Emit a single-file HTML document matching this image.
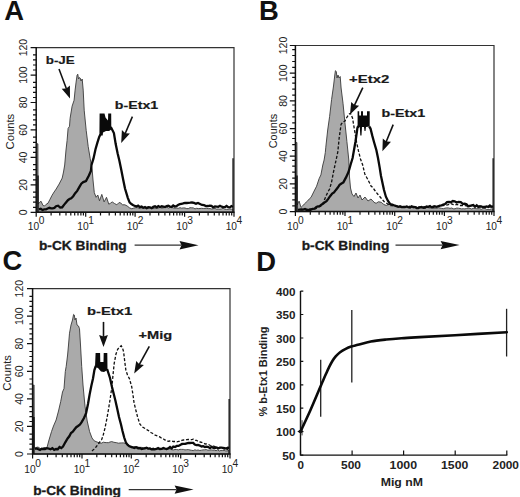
<!DOCTYPE html><html><head><meta charset="utf-8"><style>html,body{margin:0;padding:0;background:#fff;}svg{display:block;}text{font-family:"Liberation Sans",sans-serif;}</style></head><body>
<svg width="520" height="497" viewBox="0 0 520 497">
<rect width="520" height="497" fill="#fff"/>
<text x="4.3" y="20" font-size="27.4" font-weight="bold" fill="#111">A</text>
<text x="259.0" y="20" font-size="27.4" font-weight="bold" fill="#111">B</text>
<text x="2.6" y="269.6" font-size="27.4" font-weight="bold" fill="#111">C</text>
<text x="256.2" y="270.8" font-size="27.4" font-weight="bold" fill="#111">D</text>
<polygon points="37.0,212.0 37.0,143.8 37.9,143.8 38.1,204.0 41.0,201.2 43.0,205.5 44.5,206.0 46.2,204.3 48.0,203.2 50.0,199.3 52.1,195.2 54.1,192.0 56.1,189.1 59.1,184.1 62.2,178.1 63.5,172.0 64.7,165.0 66.0,150.0 67.1,140.4 68.1,128.4 69.5,126.3 70.1,118.3 72.1,106.2 74.1,100.2 75.1,90.1 76.1,82.1 77.1,75.0 77.8,74.2 78.5,79.0 79.5,77.5 80.2,78.0 81.0,81.0 82.2,79.0 83.2,90.1 84.2,110.2 86.2,130.4 88.2,146.5 90.2,158.5 92.2,170.0 93.0,180.0 94.3,192.7 96.1,197.3 97.8,195.0 99.5,200.8 101.8,194.4 104.1,201.9 106.5,197.3 108.8,204.2 110.5,203.2 112.2,201.9 114.5,203.5 116.8,204.8 119.1,202.5 120.8,203.1 122.6,204.8 124.9,204.8 127.2,206.0 129.5,207.8 131.8,208.8 133.7,208.1 135.7,207.7 137.6,207.7 139.3,208.4 141.1,207.9 142.8,208.4 144.5,208.1 146.3,208.4 148.0,208.3 149.7,207.8 151.4,208.3 153.1,208.6 154.8,208.1 156.5,208.3 158.2,208.1 159.8,207.3 161.5,208.1 163.2,207.9 164.9,207.4 166.6,207.1 168.3,208.0 170.0,207.5 171.7,207.5 173.3,207.9 175.0,208.1 176.7,208.0 178.3,208.3 180.0,207.7 181.7,208.2 183.3,207.9 185.0,208.0 186.7,208.6 188.3,208.6 190.0,207.7 191.7,207.8 193.3,207.9 195.0,208.9 196.7,208.3 198.3,208.6 200.0,208.5 201.7,208.3 203.3,208.5 205.0,208.4 206.7,208.3 208.3,208.6 210.0,208.6 211.7,209.0 213.3,208.7 215.0,208.5 216.6,209.1 218.3,209.0 219.9,209.2 221.5,208.9 223.2,208.3 224.8,209.2 226.5,209.4 228.1,209.3 229.7,209.0 231.4,209.2 233.0,209.0 233.0,212.0" fill="#aaaaaa" stroke="#3a3a3a" stroke-width="0.9" stroke-linejoin="round"/>
<polyline points="38.9,209.3 40.7,208.7 42.5,210.0 44.2,209.4 46.0,209.3 47.7,208.5 49.4,207.8 51.1,208.3 52.8,208.3 54.4,207.9 56.1,206.2 58.1,205.7 60.2,207.5 62.2,207.3 64.2,204.6 66.2,202.2 67.9,200.2 69.5,199.1 71.2,198.2 73.2,196.2 75.2,193.2 77.2,190.9 79.3,187.1 81.3,183.7 83.3,182.1 86.0,181.0 88.9,175.5 90.9,171.0 91.5,165.0 93.5,158.4 95.5,149.3 97.4,142.7 99.2,137.0 100.4,134.5" fill="none" stroke="#0a0a0a" stroke-width="2.3" stroke-linejoin="miter"/>
<path d="M38.0,212.3V175.4M233.1,212.3V158.2" stroke="#0a0a0a" stroke-width="1.4"/>
<polyline points="110.8,127.0 113.9,133.0 115.7,144.1 117.6,153.3 119.4,160.7 121.3,170.0 123.1,179.3 125.0,188.5 127.8,197.8 129.6,202.4 131.4,204.0 133.3,205.2 136.4,206.5 138.1,205.7 139.8,207.1 141.6,206.5 143.3,207.7 145.0,207.0 146.7,208.1 148.3,207.2 150.0,207.3 151.7,208.2 153.3,206.8 155.0,206.3 156.7,207.3 158.3,206.1 160.0,207.0 161.7,206.3 163.3,206.6 165.0,207.0 166.7,206.0 168.3,205.7 170.0,206.5 171.6,206.9 173.2,205.5 174.8,206.5 176.4,206.1 178.0,205.0 179.8,204.2 181.5,203.8 183.2,203.4 185.0,202.8 186.8,203.0 188.5,202.8 190.2,202.7 192.0,202.5 194.0,202.9 196.0,203.7 198.0,203.0 200.0,204.0 202.0,205.0 204.0,205.2 206.0,206.1 208.0,206.0 209.8,205.6 211.5,205.9 213.2,207.3 215.0,206.5 216.7,206.6 218.3,206.8 220.0,205.8 221.7,206.7 223.3,207.1 225.0,207.0 226.6,206.0 228.2,207.2 229.8,207.3 231.4,206.1 233.0,207.0" fill="none" stroke="#0a0a0a" stroke-width="2.3" stroke-linejoin="miter"/>
<polygon points="99.4,135.5 99.6,113.5 104.5,113.5 105.5,117.5 108.0,120.5 108.2,113.5 111.2,113.5 111.3,129.6 109.0,131.0 106.0,131.0 103.0,132.5 102.7,135.5" fill="#0a0a0a"/>
<path d="M36.2,47.6 H234.0 V212.3" fill="none" stroke="#333" stroke-width="1.2"/>
<path d="M36.2,47.0 V212.3 H234.6" fill="none" stroke="#111" stroke-width="1.5"/>
<path d="M30.6,212.3H36.2M30.6,184.9H36.2M33.0,192.1H36.2M33.0,197.2H36.2M33.0,202.2H36.2M33.0,207.3H36.2M30.6,157.4H36.2M33.0,164.7H36.2M33.0,169.7H36.2M33.0,174.8H36.2M33.0,179.8H36.2M30.6,129.9H36.2M33.0,137.2H36.2M33.0,142.3H36.2M33.0,147.3H36.2M33.0,152.4H36.2M30.6,102.5H36.2M33.0,109.8H36.2M33.0,114.8H36.2M33.0,119.9H36.2M33.0,124.9H36.2M30.6,75.1H36.2M33.0,82.3H36.2M33.0,87.4H36.2M33.0,92.4H36.2M33.0,97.5H36.2M30.6,47.6H36.2M33.0,54.9H36.2M33.0,59.9H36.2M33.0,65.0H36.2M33.0,70.0H36.2M36.2,212.3V216.8M51.1,212.3V215.5M59.8,212.3V215.5M66.0,212.3V215.5M70.8,212.3V215.5M74.7,212.3V215.5M78.0,212.3V215.5M80.9,212.3V215.5M83.4,212.3V215.5M85.7,212.3V216.8M100.5,212.3V215.5M109.2,212.3V215.5M115.4,212.3V215.5M120.2,212.3V215.5M124.1,212.3V215.5M127.4,212.3V215.5M130.3,212.3V215.5M132.8,212.3V215.5M135.1,212.3V216.8M150.0,212.3V215.5M158.7,212.3V215.5M164.9,212.3V215.5M169.7,212.3V215.5M173.6,212.3V215.5M176.9,212.3V215.5M179.8,212.3V215.5M182.3,212.3V215.5M184.6,212.3V216.8M199.4,212.3V215.5M208.1,212.3V215.5M214.3,212.3V215.5M219.1,212.3V215.5M223.0,212.3V215.5M226.3,212.3V215.5M229.2,212.3V215.5M231.7,212.3V215.5M234.0,212.3V216.8" stroke="#111" stroke-width="1.2" fill="none"/>
<text x="27.0" y="212.3" transform="rotate(-90 27.0 212.3)" text-anchor="middle" font-size="10.5" fill="#222">0</text>
<text x="27.0" y="184.9" transform="rotate(-90 27.0 184.9)" text-anchor="middle" font-size="10.5" fill="#222">20</text>
<text x="27.0" y="157.4" transform="rotate(-90 27.0 157.4)" text-anchor="middle" font-size="10.5" fill="#222">40</text>
<text x="27.0" y="129.9" transform="rotate(-90 27.0 129.9)" text-anchor="middle" font-size="10.5" fill="#222">60</text>
<text x="27.0" y="102.5" transform="rotate(-90 27.0 102.5)" text-anchor="middle" font-size="10.5" fill="#222">80</text>
<text x="27.0" y="75.1" transform="rotate(-90 27.0 75.1)" text-anchor="middle" font-size="10.5" fill="#222">100</text>
<text x="27.0" y="47.6" transform="rotate(-90 27.0 47.6)" text-anchor="middle" font-size="10.5" fill="#222">120</text>
<text x="14.1" y="149.48" transform="rotate(-90 14.1 149.48)" font-size="10.5" fill="#222" textLength="35.72" lengthAdjust="spacingAndGlyphs">Counts</text>
<text x="39.2" y="230.2" text-anchor="end" font-size="10.2" fill="#222">10</text>
<text x="38.8" y="224.4" font-size="10.2" fill="#222">0</text>
<text x="88.7" y="230.2" text-anchor="end" font-size="10.2" fill="#222">10</text>
<text x="88.2" y="224.4" font-size="10.2" fill="#222">1</text>
<text x="138.1" y="230.2" text-anchor="end" font-size="10.2" fill="#222">10</text>
<text x="137.7" y="224.4" font-size="10.2" fill="#222">2</text>
<text x="187.6" y="230.2" text-anchor="end" font-size="10.2" fill="#222">10</text>
<text x="187.2" y="224.4" font-size="10.2" fill="#222">3</text>
<text x="237.0" y="230.2" text-anchor="end" font-size="10.2" fill="#222">10</text>
<text x="236.6" y="224.4" font-size="10.2" fill="#222">4</text>
<text x="38.98" y="249.5" font-size="12.3" font-weight="bold" fill="#1a1a1a" stroke="#1a1a1a" stroke-width="0.3" textLength="87.76" lengthAdjust="spacingAndGlyphs">b-CK Binding</text>
<path d="M134.6,245.2 H181.5" stroke="#333" stroke-width="1.3"/>
<path d="M198.5,245.2 L179.5,241.0 L181.5,245.2 L179.5,249.39999999999998 Z" fill="#111"/>
<text x="45.72" y="64.4" font-size="11.6" font-weight="bold" fill="#1a1a1a" stroke="#1a1a1a" stroke-width="0.2" textLength="29.02" lengthAdjust="spacingAndGlyphs">b-JE</text>
<path d="M59.0,69.0 L66.5,89.0" stroke="#111" stroke-width="1.6"/>
<path d="M70.0,98.4 L61.7,88.7 L66.3,88.6 L69.9,85.6 Z" fill="#111"/>
<text x="114.74" y="109.0" font-size="11.6" font-weight="bold" fill="#1a1a1a" stroke="#1a1a1a" stroke-width="0.2" textLength="43.48" lengthAdjust="spacingAndGlyphs">b-Etx1</text>
<path d="M132.4,116.6 L125.1,133.7" stroke="#111" stroke-width="1.6"/>
<path d="M121.2,142.9 L121.9,130.1 L125.3,133.2 L129.9,133.6 Z" fill="#111"/>
<polygon points="296.1,211.6 296.1,142.5 296.9,142.5 297.1,205.0 299.1,201.1 301.0,207.4 302.7,205.9 304.3,204.0 306.0,202.4 307.7,200.9 309.3,198.9 311.0,197.4 314.1,191.1 316.6,186.2 319.1,178.7 320.9,174.9 322.8,165.0 324.1,160.0 325.3,152.5 325.8,147.2 327.7,130.0 329.6,116.6 331.6,99.4 333.5,86.0 334.8,75.0 335.4,70.7 336.3,71.5 337.0,78.0 338.0,75.0 339.0,78.0 340.2,76.5 341.1,88.0 343.0,103.2 344.9,122.4 346.9,141.5 348.8,160.0 349.5,177.0 350.5,188.0 352.0,194.0 354.0,196.5 356.0,193.0 358.0,198.0 360.0,195.0 362.0,200.0 365.0,197.0 368.0,201.0 371.0,199.0 373.0,201.2 375.0,203.0 376.7,203.0 378.3,201.8 380.0,202.0 381.7,202.5 383.3,204.2 385.0,205.0 386.7,205.4 388.3,204.4 390.0,204.5 391.7,204.9 393.3,205.4 395.0,205.5 396.7,206.0 398.3,206.4 400.0,207.0 401.7,206.9 403.3,207.2 405.0,206.9 406.7,207.1 408.3,207.6 410.0,206.8 411.7,207.5 413.3,207.7 415.0,207.3 416.7,207.2 418.3,208.0 420.0,207.4 421.7,207.3 423.3,207.7 425.0,208.1 426.7,207.4 428.3,207.7 430.0,208.0 431.7,207.8 433.3,208.5 435.0,208.0 436.7,208.5 438.3,207.7 440.0,208.0 441.7,208.4 443.3,208.7 445.0,208.2 446.7,207.9 448.3,207.9 450.0,208.4 451.7,208.0 453.3,208.8 455.0,208.8 456.7,208.1 458.3,208.2 460.0,208.5 461.6,208.9 463.3,208.7 464.9,208.9 466.6,208.4 468.2,208.2 469.9,208.4 471.6,209.0 473.2,208.4 474.9,208.5 476.5,208.7 478.1,208.7 479.8,208.7 481.4,209.3 483.1,208.4 484.8,208.3 486.4,209.4 488.1,209.4 489.7,209.5 491.4,208.9 493.0,209.0 493.0,211.6" fill="#aaaaaa" stroke="#3a3a3a" stroke-width="0.9" stroke-linejoin="round"/>
<polyline points="300.0,209.5 301.7,209.8 303.3,209.7 305.0,208.9 306.7,209.3 308.3,209.3 310.0,208.8 312.0,208.9 314.0,208.6 316.0,208.5 317.6,207.5 319.3,206.7 320.9,206.0 323.4,202.4 326.5,194.9 329.7,188.7 331.5,182.4 333.4,172.4 335.3,163.7 337.8,152.0 339.2,137.7 341.1,124.3 343.0,122.0 345.0,121.0 346.5,118.0 348.9,114.2 350.5,113.3 352.5,118.0 354.5,130.0 356.5,142.0 358.5,151.0 360.5,159.0 362.7,165.0 364.8,174.0 367.5,179.0 369.2,182.2 371.0,186.0 372.8,187.6 374.5,190.0 376.2,192.3 378.0,194.5 381.0,198.0 384.0,201.5 387.0,203.5 390.0,205.5 391.7,205.4 393.3,206.0 395.0,205.3 396.7,206.2 398.3,206.1 400.0,206.0 401.7,206.5 403.3,206.6 405.0,206.6 406.7,206.4 408.3,205.9 410.0,206.7 411.7,206.3 413.3,206.5 415.0,206.9 416.7,206.9 418.3,206.8 420.0,207.0 421.7,207.4 423.3,206.9 425.0,206.6 426.7,206.4 428.3,206.9 430.0,206.5 431.7,206.7 433.3,206.2 435.0,205.9 436.7,206.2 438.3,206.4 440.0,206.0 441.7,205.3 443.3,205.6 445.0,205.4 446.7,205.0 448.3,204.7 450.0,204.0 451.7,203.8 453.3,204.6 455.0,205.1 456.7,204.5 458.3,205.0 460.0,205.5 461.6,205.3 463.3,205.7 464.9,205.6 466.6,205.8 468.2,206.2 469.9,205.5 471.6,205.6 473.2,205.7 474.9,205.8 476.5,205.8 478.1,206.8 479.8,206.8 481.4,206.1 483.1,206.6 484.8,206.4 486.4,206.5 488.1,206.6 489.7,207.0 491.4,207.0 493.0,207.0" fill="none" stroke="#111" stroke-width="1.3" stroke-dasharray="3 1.8"/>
<polyline points="298.0,209.9 299.8,209.6 301.5,209.3 303.2,209.6 305.0,209.1 306.8,210.0 308.5,209.9 310.6,209.9 312.6,208.8 314.7,208.6 316.4,206.9 318.0,206.3 319.7,206.1 321.4,204.6 323.0,203.8 324.7,202.4 326.5,201.1 328.4,198.6 330.3,195.9 332.2,193.6 334.0,192.4 335.9,189.9 337.8,187.6 339.6,184.9 341.5,183.5 343.4,182.4 346.0,177.4 348.5,172.0 350.5,165.0 352.6,158.0 355.5,141.5 357.4,128.0 358.2,126.0" fill="none" stroke="#0a0a0a" stroke-width="2.3" stroke-linejoin="miter"/>
<path d="M297.0,211.6V175.5M493.2,211.6V158.2" stroke="#0a0a0a" stroke-width="1.4"/>
<polyline points="369.2,126.5 370.5,128.5 372.2,135.4 374.0,142.0 376.4,150.2 378.0,158.0 379.6,167.1 381.0,176.0 382.7,184.0 384.0,190.0 385.9,196.7 388.0,201.0 390.1,204.0 392.2,204.5 394.4,205.5 396.5,206.2 398.2,206.8 399.9,206.4 401.6,207.1 403.3,206.8 405.0,207.0 406.7,206.5 408.3,207.1 410.0,207.5 411.7,206.3 413.3,207.0 415.0,207.1 416.7,208.0 418.3,208.1 420.0,207.3 421.7,207.0 423.3,207.9 425.0,207.6 426.7,206.5 428.3,206.8 430.0,206.0 431.7,207.3 433.3,206.9 435.0,206.5 436.7,206.9 438.3,206.3 440.0,205.6 441.7,205.3 443.3,204.5 445.0,204.0 447.0,202.2 449.0,202.0 450.9,202.2 452.8,201.0 454.7,201.3 456.6,202.5 458.5,202.0 460.8,202.1 463.0,204.0 464.8,203.7 466.5,204.2 468.2,206.3 470.0,206.0 471.7,205.4 473.3,205.1 475.0,206.8 476.7,205.4 478.3,206.9 480.0,206.3 481.6,206.6 483.3,207.0 484.9,207.2 486.6,206.5 488.2,206.9 489.9,205.4 491.6,206.8 493.2,206.3" fill="none" stroke="#0a0a0a" stroke-width="2.3" stroke-linejoin="miter"/>
<polygon points="357.6,128.0 357.6,111.3 359.2,111.3 359.2,115.5 361.0,115.5 361.0,111.3 363.0,111.3 363.0,115.5 367.0,115.5 367.0,111.3 369.7,111.3 369.7,126.5 366.0,127.0 365.5,131.0 364.5,131.0 364.0,127.0 362.0,127.0 361.5,135.4 360.3,135.4 359.8,127.0 358.5,128.0" fill="#0a0a0a"/>
<path d="M295.4,45.5 H494.0 V211.6" fill="none" stroke="#333" stroke-width="1.2"/>
<path d="M295.4,44.9 V211.6 H494.6" fill="none" stroke="#111" stroke-width="1.5"/>
<path d="M289.8,211.6H295.4M289.8,183.9H295.4M292.2,188.0H295.4M292.2,193.9H295.4M292.2,199.9H295.4M292.2,205.9H295.4M289.8,156.2H295.4M292.2,160.4H295.4M292.2,166.2H295.4M292.2,172.2H295.4M292.2,178.2H295.4M289.8,128.6H295.4M292.2,132.7H295.4M292.2,138.5H295.4M292.2,144.6H295.4M292.2,150.5H295.4M289.8,100.9H295.4M292.2,105.0H295.4M292.2,110.8H295.4M292.2,116.9H295.4M292.2,122.8H295.4M289.8,73.2H295.4M292.2,77.3H295.4M292.2,83.1H295.4M292.2,89.2H295.4M292.2,95.1H295.4M289.8,45.5H295.4M292.2,49.6H295.4M292.2,55.5H295.4M292.2,61.5H295.4M292.2,67.4H295.4M295.4,211.6V216.1M310.3,211.6V214.8M319.1,211.6V214.8M325.3,211.6V214.8M330.1,211.6V214.8M334.0,211.6V214.8M337.4,211.6V214.8M340.2,211.6V214.8M342.8,211.6V214.8M345.0,211.6V216.1M360.0,211.6V214.8M368.7,211.6V214.8M374.9,211.6V214.8M379.8,211.6V214.8M383.7,211.6V214.8M387.0,211.6V214.8M389.9,211.6V214.8M392.4,211.6V214.8M394.7,211.6V216.1M409.6,211.6V214.8M418.4,211.6V214.8M424.6,211.6V214.8M429.4,211.6V214.8M433.3,211.6V214.8M436.7,211.6V214.8M439.5,211.6V214.8M442.1,211.6V214.8M444.4,211.6V216.1M459.3,211.6V214.8M468.0,211.6V214.8M474.2,211.6V214.8M479.1,211.6V214.8M483.0,211.6V214.8M486.3,211.6V214.8M489.2,211.6V214.8M491.7,211.6V214.8M494.0,211.6V216.1" stroke="#111" stroke-width="1.2" fill="none"/>
<text x="286.9" y="211.6" transform="rotate(-90 286.9 211.6)" text-anchor="middle" font-size="10.5" fill="#222">0</text>
<text x="286.9" y="183.9" transform="rotate(-90 286.9 183.9)" text-anchor="middle" font-size="10.5" fill="#222">20</text>
<text x="286.9" y="156.2" transform="rotate(-90 286.9 156.2)" text-anchor="middle" font-size="10.5" fill="#222">40</text>
<text x="286.9" y="128.6" transform="rotate(-90 286.9 128.6)" text-anchor="middle" font-size="10.5" fill="#222">60</text>
<text x="286.9" y="100.9" transform="rotate(-90 286.9 100.9)" text-anchor="middle" font-size="10.5" fill="#222">80</text>
<text x="286.9" y="73.2" transform="rotate(-90 286.9 73.2)" text-anchor="middle" font-size="10.5" fill="#222">100</text>
<text x="286.9" y="45.5" transform="rotate(-90 286.9 45.5)" text-anchor="middle" font-size="10.5" fill="#222">120</text>
<text x="277.2" y="148.24" transform="rotate(-90 277.2 148.24)" font-size="10.5" fill="#222" textLength="34.48" lengthAdjust="spacingAndGlyphs">Counts</text>
<text x="298.4" y="229.6" text-anchor="end" font-size="10.2" fill="#222">10</text>
<text x="298.0" y="223.8" font-size="10.2" fill="#222">0</text>
<text x="348.0" y="229.6" text-anchor="end" font-size="10.2" fill="#222">10</text>
<text x="347.6" y="223.8" font-size="10.2" fill="#222">1</text>
<text x="397.7" y="229.6" text-anchor="end" font-size="10.2" fill="#222">10</text>
<text x="397.3" y="223.8" font-size="10.2" fill="#222">2</text>
<text x="447.4" y="229.6" text-anchor="end" font-size="10.2" fill="#222">10</text>
<text x="447.0" y="223.8" font-size="10.2" fill="#222">3</text>
<text x="497.0" y="229.6" text-anchor="end" font-size="10.2" fill="#222">10</text>
<text x="496.6" y="223.8" font-size="10.2" fill="#222">4</text>
<text x="301.76" y="250.0" font-size="12.3" font-weight="bold" fill="#1a1a1a" stroke="#1a1a1a" stroke-width="0.3" textLength="87.50" lengthAdjust="spacingAndGlyphs">b-CK Binding</text>
<path d="M395.5,245.1 H442.6" stroke="#333" stroke-width="1.3"/>
<path d="M459.6,245.1 L440.6,240.9 L442.6,245.1 L440.6,249.29999999999998 Z" fill="#111"/>
<text x="349.00" y="83.0" font-size="11.6" font-weight="bold" fill="#1a1a1a" stroke="#1a1a1a" stroke-width="0.2" textLength="40.24" lengthAdjust="spacingAndGlyphs">+Etx2</text>
<path d="M362.8,87.7 L354.3,105.6" stroke="#111" stroke-width="1.6"/>
<path d="M350.0,114.6 L351.2,101.9 L354.5,105.1 L359.1,105.7 Z" fill="#111"/>
<text x="381.50" y="116.8" font-size="11.6" font-weight="bold" fill="#1a1a1a" stroke="#1a1a1a" stroke-width="0.2" textLength="43.74" lengthAdjust="spacingAndGlyphs">b-Etx1</text>
<path d="M393.2,124.6 L386.1,142.0" stroke="#111" stroke-width="1.6"/>
<path d="M382.4,151.3 L382.8,138.5 L386.3,141.6 L391.0,141.8 Z" fill="#111"/>
<polygon points="33.3,454.0 33.3,385.0 34.1,385.0 34.3,448.0 36.1,447.5 38.0,447.0 41.0,449.0 44.0,447.5 46.9,447.8 49.0,440.0 51.5,431.6 53.5,426.0 56.1,420.0 58.5,411.0 60.7,401.6 62.5,392.0 64.0,388.5 65.3,371.5 66.2,366.4 67.6,355.0 68.5,345.0 69.5,333.2 71.0,325.0 72.5,320.0 73.6,314.4 74.3,315.0 75.0,320.0 76.0,318.0 77.0,325.0 78.5,326.0 79.5,328.8 80.5,345.0 81.7,366.4 83.0,385.0 85.0,406.2 87.2,421.0 89.6,431.6 92.0,438.0 94.2,440.8 97.0,442.0 100.0,443.0 101.7,443.1 103.3,442.2 105.0,442.5 106.7,442.6 108.3,442.7 110.0,442.0 111.7,441.6 113.3,442.1 115.0,442.5 116.7,442.7 118.3,443.2 120.0,443.0 121.8,442.9 123.6,442.9 125.4,443.5 127.7,444.4 130.0,446.0 131.7,446.4 133.3,446.8 135.0,446.6 136.7,446.8 138.3,447.1 140.0,447.5 141.7,447.4 143.3,447.7 145.0,447.4 146.7,448.0 148.3,448.7 150.0,448.1 151.7,448.7 153.3,448.1 155.0,448.9 156.7,449.1 158.3,449.1 160.0,449.0 161.7,449.1 163.3,449.1 165.0,449.3 166.7,449.7 168.3,448.9 170.0,448.8 171.7,449.7 173.3,449.9 175.0,449.5 176.7,449.5 178.3,449.9 180.0,449.3 181.7,449.4 183.3,449.4 185.0,449.9 186.7,449.7 188.3,449.6 190.0,450.0 191.6,450.3 193.2,450.6 194.9,449.8 196.5,450.3 198.1,450.0 199.8,450.5 201.4,450.2 203.0,449.9 204.6,449.8 206.2,449.6 207.9,450.2 209.5,450.1 211.1,449.9 212.8,450.1 214.4,450.1 216.0,450.7 217.6,449.9 219.2,451.0 220.9,450.4 222.5,450.5 224.1,450.4 225.8,450.9 227.4,450.9 229.0,450.5 229.0,454.0" fill="#aaaaaa" stroke="#3a3a3a" stroke-width="0.9" stroke-linejoin="round"/>
<polyline points="92.0,451.0 94.0,449.1 96.0,447.0 99.0,443.0 101.5,440.0 103.0,436.0 105.0,428.0 107.0,418.0 108.4,410.0 110.0,400.0 111.9,386.7 113.0,375.0 114.2,363.4 116.0,354.0 117.7,349.3 119.5,347.0 121.2,345.8 122.5,348.0 123.6,351.7 124.8,362.0 125.9,370.4 127.5,375.0 129.4,378.6 131.7,386.7 133.0,395.0 134.1,403.1 135.8,410.0 137.6,417.1 139.9,424.1 142.5,427.0 145.7,428.8 147.3,429.9 149.0,431.0 150.9,432.5 152.8,433.5 155.2,435.1 157.5,436.0 159.3,436.7 161.2,437.9 163.0,438.5 164.7,439.9 166.4,440.3 168.1,441.3 169.8,441.0 171.6,441.0 173.3,441.5 175.1,441.5 176.8,441.8 178.6,441.3 180.2,441.3 181.8,440.4 183.4,440.0 185.0,440.0 186.7,439.6 188.4,439.4 190.0,439.7 191.7,439.7 193.4,439.2 195.1,440.3 196.7,440.4 198.3,441.7 200.0,442.0 201.7,442.4 203.4,443.1 205.2,444.0 206.9,443.9 208.6,444.5 210.3,445.5 211.9,446.3 213.5,446.1 215.2,446.6 216.8,447.2 218.4,447.8 220.0,448.0 221.6,447.9 223.2,448.6 224.8,449.0 226.4,449.4 228.0,449.8" fill="none" stroke="#111" stroke-width="1.3" stroke-dasharray="3 1.8"/>
<polyline points="35.0,449.0 36.7,448.4 38.3,449.2 40.0,449.9 41.7,448.8 43.3,449.1 45.0,449.0 46.9,448.2 48.7,448.5 50.5,449.3 52.4,448.2 54.2,449.8 56.1,449.0 57.8,449.2 59.5,447.0 61.3,448.1 63.0,446.6 65.3,442.3 67.6,438.5 69.3,436.3 71.0,433.0 72.8,431.7 74.6,429.3 76.3,427.2 78.0,426.0 79.8,424.6 81.5,422.4 84.0,418.0 86.1,413.1 88.0,404.0 89.6,394.6 91.3,386.0 93.0,378.5 94.4,370.0 95.8,366.0" fill="none" stroke="#0a0a0a" stroke-width="2.3" stroke-linejoin="miter"/>
<path d="M33.9,454.0V417.0M229.2,454.0V399.0" stroke="#0a0a0a" stroke-width="1.4"/>
<polyline points="107.1,369.0 110.0,378.0 112.0,387.0 114.0,395.0 115.5,401.0 117.5,410.0 119.0,417.0 121.0,424.5 122.5,431.0 124.2,437.5 126.0,442.8 127.7,444.9 129.4,446.3 132.3,447.3 134.2,448.1 136.2,447.2 138.1,448.3 140.0,448.0 141.6,449.0 143.2,448.6 144.9,448.4 146.5,447.7 148.1,448.6 149.8,448.5 151.4,449.3 153.0,449.0 154.7,449.3 156.4,449.0 158.1,448.1 159.9,449.0 161.6,448.9 163.3,447.9 165.0,448.5 166.7,449.0 168.3,448.3 170.0,447.0 171.7,448.4 173.3,446.5 175.0,447.0 176.8,445.9 178.5,445.9 180.2,444.9 182.0,444.0 183.6,443.9 185.2,443.9 186.8,443.3 188.4,442.8 190.0,443.0 191.6,442.8 193.2,442.9 194.8,444.6 196.4,445.1 198.0,445.0 199.8,445.6 201.5,446.5 203.2,446.2 205.0,447.0 206.7,446.7 208.3,447.1 210.0,448.2 211.7,446.8 213.3,447.8 215.0,448.0 216.6,447.5 218.2,448.5 219.8,447.7 221.4,447.7 223.0,447.8 224.6,448.1 226.2,448.5 227.8,447.7 229.4,448.0" fill="none" stroke="#0a0a0a" stroke-width="2.3" stroke-linejoin="miter"/>
<polygon points="95.0,367.0 95.6,353.0 100.1,353.0 100.3,362.0 103.5,362.0 103.7,353.0 107.3,353.0 107.5,370.0 104.0,372.0 101.0,371.5 98.0,368.0" fill="#0a0a0a"/>
<path d="M32.6,288.6 H230.0 V454.0" fill="none" stroke="#333" stroke-width="1.2"/>
<path d="M32.6,288.0 V454.0 H230.6" fill="none" stroke="#111" stroke-width="1.5"/>
<path d="M27.0,454.0H32.6M27.0,426.4H32.6M29.4,434.2H32.6M29.4,439.2H32.6M29.4,444.2H32.6M29.4,449.1H32.6M27.0,398.9H32.6M29.4,406.6H32.6M29.4,411.6H32.6M29.4,416.6H32.6M29.4,421.5H32.6M27.0,371.3H32.6M29.4,379.0H32.6M29.4,384.0H32.6M29.4,389.0H32.6M29.4,394.0H32.6M27.0,343.7H32.6M29.4,351.5H32.6M29.4,356.5H32.6M29.4,361.5H32.6M29.4,366.4H32.6M27.0,316.2H32.6M29.4,323.9H32.6M29.4,328.9H32.6M29.4,333.9H32.6M29.4,338.8H32.6M27.0,288.6H32.6M29.4,296.3H32.6M29.4,301.3H32.6M29.4,306.3H32.6M29.4,311.3H32.6M32.6,454.0V458.5M47.5,454.0V457.2M56.1,454.0V457.2M62.3,454.0V457.2M67.1,454.0V457.2M71.0,454.0V457.2M74.3,454.0V457.2M77.2,454.0V457.2M79.7,454.0V457.2M82.0,454.0V458.5M96.8,454.0V457.2M105.5,454.0V457.2M111.7,454.0V457.2M116.4,454.0V457.2M120.4,454.0V457.2M123.7,454.0V457.2M126.5,454.0V457.2M129.0,454.0V457.2M131.3,454.0V458.5M146.2,454.0V457.2M154.8,454.0V457.2M161.0,454.0V457.2M165.8,454.0V457.2M169.7,454.0V457.2M173.0,454.0V457.2M175.9,454.0V457.2M178.4,454.0V457.2M180.7,454.0V458.5M195.5,454.0V457.2M204.2,454.0V457.2M210.4,454.0V457.2M215.1,454.0V457.2M219.1,454.0V457.2M222.4,454.0V457.2M225.2,454.0V457.2M227.7,454.0V457.2M230.0,454.0V458.5" stroke="#111" stroke-width="1.2" fill="none"/>
<text x="22.7" y="454.0" transform="rotate(-90 22.7 454.0)" text-anchor="middle" font-size="10.5" fill="#222">0</text>
<text x="22.7" y="426.4" transform="rotate(-90 22.7 426.4)" text-anchor="middle" font-size="10.5" fill="#222">20</text>
<text x="22.7" y="398.9" transform="rotate(-90 22.7 398.9)" text-anchor="middle" font-size="10.5" fill="#222">40</text>
<text x="22.7" y="371.3" transform="rotate(-90 22.7 371.3)" text-anchor="middle" font-size="10.5" fill="#222">60</text>
<text x="22.7" y="343.7" transform="rotate(-90 22.7 343.7)" text-anchor="middle" font-size="10.5" fill="#222">80</text>
<text x="22.7" y="316.2" transform="rotate(-90 22.7 316.2)" text-anchor="middle" font-size="10.5" fill="#222">100</text>
<text x="22.7" y="288.6" transform="rotate(-90 22.7 288.6)" text-anchor="middle" font-size="10.5" fill="#222">120</text>
<text x="10.6" y="390.72" transform="rotate(-90 10.6 390.72)" font-size="10.5" fill="#222" textLength="35.72" lengthAdjust="spacingAndGlyphs">Counts</text>
<text x="35.6" y="472.5" text-anchor="end" font-size="10.2" fill="#222">10</text>
<text x="35.2" y="466.5" font-size="10.2" fill="#222">0</text>
<text x="85.0" y="472.5" text-anchor="end" font-size="10.2" fill="#222">10</text>
<text x="84.5" y="466.5" font-size="10.2" fill="#222">1</text>
<text x="134.3" y="472.5" text-anchor="end" font-size="10.2" fill="#222">10</text>
<text x="133.9" y="466.5" font-size="10.2" fill="#222">2</text>
<text x="183.7" y="472.5" text-anchor="end" font-size="10.2" fill="#222">10</text>
<text x="183.2" y="466.5" font-size="10.2" fill="#222">3</text>
<text x="233.0" y="472.5" text-anchor="end" font-size="10.2" fill="#222">10</text>
<text x="232.6" y="466.5" font-size="10.2" fill="#222">4</text>
<text x="33.24" y="494.6" font-size="12.3" font-weight="bold" fill="#1a1a1a" stroke="#1a1a1a" stroke-width="0.3" textLength="87.74" lengthAdjust="spacingAndGlyphs">b-CK Binding</text>
<path d="M128.7,489.6 H176.6" stroke="#333" stroke-width="1.3"/>
<path d="M193.6,489.6 L174.6,485.40000000000003 L176.6,489.6 L174.6,493.8 Z" fill="#111"/>
<text x="86.96" y="314.8" font-size="11.6" font-weight="bold" fill="#1a1a1a" stroke="#1a1a1a" stroke-width="0.2" textLength="45.28" lengthAdjust="spacingAndGlyphs">b-Etx1</text>
<path d="M103.5,321.9 L103.5,336.9" stroke="#111" stroke-width="1.6"/>
<path d="M103.5,346.9 L99.1,334.9 L103.5,336.4 L107.9,334.9 Z" fill="#111"/>
<text x="138.52" y="339.2" font-size="11.6" font-weight="bold" fill="#1a1a1a" stroke="#1a1a1a" stroke-width="0.2" textLength="33.72" lengthAdjust="spacingAndGlyphs">+Mig</text>
<path d="M149.3,346.3 L139.1,364.8" stroke="#111" stroke-width="1.6"/>
<path d="M134.2,373.5 L136.2,360.9 L139.3,364.3 L143.9,365.1 Z" fill="#111"/>
<path d="M300.5,291.09000000000003 V455.1 H507.40000000000003" fill="none" stroke="#111" stroke-width="1.4"/>
<path d="M300.5,455.1H303.3M300.5,431.7H303.3M300.5,408.2H303.3M300.5,384.8H303.3M300.5,361.4H303.3M300.5,338.0H303.3M300.5,314.5H303.3M300.5,291.1H303.3M300.5,455.1V450.5M352.1,455.1V450.5M403.6,455.1V450.5M455.2,455.1V450.5M506.8,455.1V450.5" stroke="#111" stroke-width="1.2"/>
<text x="282.26" y="459.9" font-size="11.2" font-weight="bold" fill="#222" textLength="13.24" lengthAdjust="spacingAndGlyphs">50</text>
<text x="276.02" y="436.47" font-size="11.2" font-weight="bold" fill="#222" textLength="19.48" lengthAdjust="spacingAndGlyphs">100</text>
<text x="276.02" y="413.04" font-size="11.2" font-weight="bold" fill="#222" textLength="19.48" lengthAdjust="spacingAndGlyphs">150</text>
<text x="276.02" y="389.61" font-size="11.2" font-weight="bold" fill="#222" textLength="19.48" lengthAdjust="spacingAndGlyphs">200</text>
<text x="276.02" y="366.18" font-size="11.2" font-weight="bold" fill="#222" textLength="19.48" lengthAdjust="spacingAndGlyphs">250</text>
<text x="276.02" y="342.75" font-size="11.2" font-weight="bold" fill="#222" textLength="19.48" lengthAdjust="spacingAndGlyphs">300</text>
<text x="276.02" y="319.32" font-size="11.2" font-weight="bold" fill="#222" textLength="19.48" lengthAdjust="spacingAndGlyphs">350</text>
<text x="276.02" y="295.89" font-size="11.2" font-weight="bold" fill="#222" textLength="19.48" lengthAdjust="spacingAndGlyphs">400</text>
<text x="297.52" y="469.2" font-size="11.2" font-weight="bold" fill="#222" textLength="6.48" lengthAdjust="spacingAndGlyphs">0</text>
<text x="341.00" y="469.2" font-size="11.2" font-weight="bold" fill="#222" textLength="19.98" lengthAdjust="spacingAndGlyphs">500</text>
<text x="389.50" y="469.2" font-size="11.2" font-weight="bold" fill="#222" textLength="27.52" lengthAdjust="spacingAndGlyphs">1000</text>
<text x="441.00" y="469.2" font-size="11.2" font-weight="bold" fill="#222" textLength="27.26" lengthAdjust="spacingAndGlyphs">1500</text>
<text x="492.52" y="469.2" font-size="11.2" font-weight="bold" fill="#222" textLength="26.46" lengthAdjust="spacingAndGlyphs">2000</text>
<text x="380.72" y="485.5" font-size="11.2" font-weight="bold" fill="#222" textLength="42.30" lengthAdjust="spacingAndGlyphs">Mig nM</text>
<text x="267.3" y="416.50" transform="rotate(-90 267.3 416.50)" font-size="11.0" font-weight="bold" fill="#222" textLength="90.02" lengthAdjust="spacingAndGlyphs">% b-Etx1 Binding</text>
<path d="M320.7,359.7V416.8" stroke="#222" stroke-width="1.3"/>
<path d="M351.8,310.0V382.5" stroke="#222" stroke-width="1.3"/>
<path d="M506.6,308.8V356.5" stroke="#222" stroke-width="1.3"/>
<path d="M301.9,420.2V435.4" stroke="#888" stroke-width="2"/>
<path d="M300.5,431.6 C302.17,428.00 307.40,416.97 310.5,410.0 C313.60,403.03 317.12,394.45 319.1,389.8 C321.08,385.15 321.28,384.68 322.4,382.1 C323.52,379.52 324.68,376.80 325.8,374.3 C326.92,371.80 328.00,369.32 329.1,367.1 C330.20,364.88 331.30,362.78 332.4,361.0 C333.50,359.22 334.42,357.87 335.7,356.4 C336.98,354.93 338.43,353.45 340.1,352.2 C341.77,350.95 343.85,349.83 345.7,348.9 C347.55,347.97 349.17,347.28 351.2,346.6 C353.23,345.92 354.63,345.65 357.9,344.8 C361.17,343.95 366.08,342.38 370.8,341.5 C375.52,340.62 381.08,340.05 386.2,339.5 C391.32,338.95 395.87,338.60 401.5,338.2 C407.13,337.80 411.08,337.60 420,337.1 C428.92,336.60 440.53,336.02 455,335.2 C469.47,334.38 498.17,332.70 506.8,332.2" fill="none" stroke="#0a0a0a" stroke-width="2.6" stroke-linecap="round"/>
<path d="M297.3,431.5 L300.5,429.6 L303.6,431.5 L300.5,433.4 Z" fill="#111"/>
</svg></body></html>
